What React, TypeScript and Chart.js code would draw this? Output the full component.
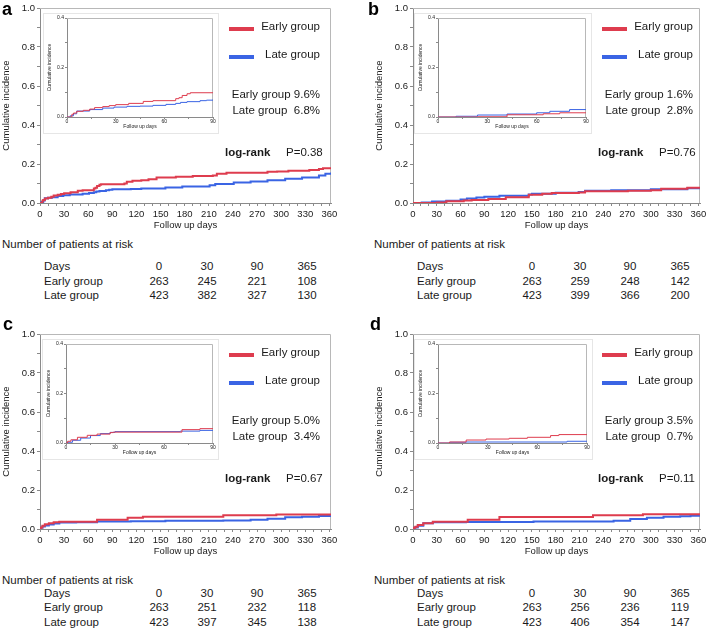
import React, { useEffect, useRef } from "react";
import { Chart, registerables } from "chart.js";

Chart.register(...registerables);

const FONT = "'Liberation Sans', Arial, Helvetica, sans-serif";
const RED = "rgb(222,60,78)";
const BLUE = "rgb(58,100,228)";
const AXIS = "#8a8a8a";
const FRAME = "#b8b8b8";
const TEXT = "#1a1a1a";

// ---------- axis ticks ----------
const X_MAX = 362;
const mainXTicks = [0, 10, 20, 30, 40, 50, 60, 70, 80, 90, 100, 110, 120, 130, 140, 150, 160, 170, 180, 190, 200, 210, 220, 230, 240, 250, 260, 270, 280, 290, 300, 310, 320, 330, 340, 350, 360];
const mainXLabels = [0, 30, 60, 90, 120, 150, 180, 210, 240, 270, 300, 330, 360];
const mainYTicks = [0, 0.1, 0.2, 0.3, 0.4, 0.5, 0.6, 0.7, 0.8, 0.9, 1.0];
const mainYLabels = [0, 0.2, 0.4, 0.6, 0.8, 1.0];
const insetXTicks = [0, 15, 30, 45, 60, 75, 90];
const insetXLabels = [0, 30, 60, 90];
const insetYTicks = [0, 0.1, 0.2, 0.3, 0.4];
const insetYLabels = [0, 0.2, 0.4];

// ---------- panel a ----------
const aEarlyT = [0, 3, 4, 6, 10, 14, 17, 22, 26, 30, 38, 47, 53, 67, 69, 71, 74, 76, 105, 108, 115, 126, 135, 145, 169, 190, 215, 220, 232, 283, 295, 309, 335, 347, 352, 362];
const aEarlyV = [0, 0.011, 0.016, 0.023, 0.027, 0.032, 0.038, 0.042, 0.046, 0.05, 0.055, 0.063, 0.066, 0.074, 0.078, 0.087, 0.094, 0.096, 0.1, 0.109, 0.114, 0.117, 0.122, 0.131, 0.134, 0.138, 0.141, 0.15, 0.155, 0.16, 0.162, 0.166, 0.169, 0.174, 0.178, 0.178];
const aLateT = [0, 2, 4, 6, 10, 15, 22, 29, 37, 45, 53, 61, 67, 70, 74, 82, 86, 90, 113, 126, 156, 177, 211, 218, 241, 262, 283, 305, 326, 347, 355, 362];
const aLateV = [0, 0.005, 0.013, 0.024, 0.027, 0.03, 0.036, 0.04, 0.043, 0.044, 0.047, 0.051, 0.055, 0.059, 0.062, 0.066, 0.068, 0.07, 0.072, 0.075, 0.079, 0.084, 0.091, 0.098, 0.105, 0.11, 0.117, 0.124, 0.131, 0.141, 0.15, 0.156];
const aInEarlyT = [0, 3, 4, 6, 10, 14, 17, 22, 26, 30, 38, 47, 53, 67, 69, 71, 74, 76, 90];
const aInEarlyV = [0, 0.011, 0.016, 0.023, 0.027, 0.032, 0.038, 0.042, 0.046, 0.05, 0.055, 0.063, 0.066, 0.074, 0.078, 0.087, 0.094, 0.098, 0.098];
const aInLateT = [0, 2, 4, 6, 14, 22, 29, 37, 45, 53, 61, 67, 70, 74, 82, 86, 90];
const aInLateV = [0, 0.005, 0.013, 0.024, 0.03, 0.036, 0.04, 0.043, 0.044, 0.047, 0.051, 0.055, 0.059, 0.062, 0.066, 0.068, 0.07];

// ---------- panel b ----------
const bEarlyT = [0, 30, 42, 64, 74, 95, 117, 146, 163, 175, 209, 217, 271, 300, 313, 346, 362];
const bEarlyV = [0, 0.002, 0.009, 0.013, 0.016, 0.02, 0.029, 0.042, 0.047, 0.051, 0.054, 0.06, 0.063, 0.066, 0.073, 0.078, 0.078];
const bLateT = [0, 11, 24, 42, 60, 68, 80, 90, 109, 146, 150, 180, 209, 217, 250, 300, 346, 362];
const bLateV = [0, 0.003, 0.008, 0.012, 0.018, 0.023, 0.028, 0.032, 0.037, 0.044, 0.047, 0.053, 0.056, 0.063, 0.066, 0.071, 0.076, 0.077];
const bInEarlyT = [0, 24, 42, 64, 74, 90];
const bInEarlyV = [0, 0.001, 0.009, 0.013, 0.017, 0.017];
const bInLateT = [0, 11, 24, 42, 60, 68, 80, 90];
const bInLateV = [0, 0.003, 0.008, 0.012, 0.017, 0.023, 0.03, 0.03];

// ---------- panel c ----------
const cEarlyT = [0, 1, 3, 6, 11, 17, 24, 71, 109, 128, 228, 294, 362];
const cEarlyV = [0, 0.008, 0.017, 0.024, 0.03, 0.034, 0.037, 0.048, 0.058, 0.063, 0.07, 0.075, 0.075];
const cLateT = [0, 1, 3, 6, 11, 17, 24, 45, 71, 113, 156, 228, 262, 283, 305, 326, 347, 362];
const cLateV = [0, 0.006, 0.013, 0.018, 0.023, 0.028, 0.033, 0.035, 0.038, 0.04, 0.042, 0.043, 0.047, 0.053, 0.06, 0.063, 0.067, 0.068];
const cInEarlyT = [0, 1, 3, 7, 13, 19, 27, 29, 71, 82, 90];
const cInEarlyV = [0, 0.007, 0.013, 0.023, 0.031, 0.036, 0.042, 0.044, 0.054, 0.058, 0.058];
const cInLateT = [0, 1, 4, 9, 15, 21, 27, 30, 70, 82, 90];
const cInLateV = [0, 0.003, 0.011, 0.02, 0.03, 0.038, 0.043, 0.046, 0.048, 0.051, 0.051];

// ---------- panel d ----------
const dEarlyT = [0, 1, 3, 6, 13, 25, 69, 109, 227, 290, 362];
const dEarlyV = [0, 0.006, 0.012, 0.02, 0.03, 0.037, 0.047, 0.062, 0.071, 0.076, 0.076];
const dLateT = [0, 2, 6, 13, 25, 67, 152, 253, 274, 295, 316, 337, 350, 362];
const dLateV = [0, 0.008, 0.017, 0.029, 0.034, 0.036, 0.039, 0.042, 0.051, 0.058, 0.063, 0.066, 0.068, 0.069];
const dInEarlyT = [0, 7, 17, 29, 43, 54, 68, 73, 90];
const dInEarlyV = [0, 0.004, 0.012, 0.016, 0.019, 0.023, 0.03, 0.034, 0.034];
const dInLateT = [0, 7, 17, 78, 90];
const dInLateV = [0, 0.003, 0.004, 0.007, 0.007];

// ---------- texts and tables ----------
const panelLetters = ["a", "b", "c", "d"];
const earlyPct = ["9.6", "1.6", "5.0", "3.5"];
const latePct = ["6.8", "2.8", "3.4", "0.7"];
const pValues = ["0.38", "0.76", "0.67", "0.11"];
const riskDays = [0, 30, 90, 365];
const riskEarlyA = [263, 245, 221, 108];
const riskLateA = [423, 382, 327, 130];
const riskEarlyB = [263, 259, 248, 142];
const riskLateB = [423, 399, 366, 200];
const riskEarlyC = [263, 251, 232, 118];
const riskLateC = [423, 397, 345, 138];
const riskEarlyD = [263, 256, 236, 119];
const riskLateD = [423, 406, 354, 147];

type Series = { t: number[]; v: number[]; color: string };

const PANELS = [
  { main: [[aEarlyT, aEarlyV], [aLateT, aLateV]], inset: [[aInEarlyT, aInEarlyV], [aInLateT, aInLateV]], risk: [riskEarlyA, riskLateA] },
  { main: [[bEarlyT, bEarlyV], [bLateT, bLateV]], inset: [[bInEarlyT, bInEarlyV], [bInLateT, bInLateV]], risk: [riskEarlyB, riskLateB] },
  { main: [[cEarlyT, cEarlyV], [cLateT, cLateV]], inset: [[cInEarlyT, cInEarlyV], [cInLateT, cInLateV]], risk: [riskEarlyC, riskLateC] },
  { main: [[dEarlyT, dEarlyV], [dLateT, dLateV]], inset: [[dInEarlyT, dInEarlyV], [dInLateT, dInLateV]], risk: [riskEarlyD, riskLateD] },
];

// layout only
const LAYOUT = [
  { dx: 0, dy: 0, mainW: 350, padRight: 19, inL: 44, inT: 14, inW: 146, letterX: 2, letterY: 0, numX: 2, numY: 245, rows: [267, 281.5, 296] },
  { dx: 373, dy: 0, mainW: 335, padRight: 8, inL: 415, inT: 14, inW: 148, letterX: 368, letterY: 0, numX: 374, numY: 245, rows: [267, 281.5, 296] },
  { dx: 0, dy: 326, mainW: 350, padRight: 19, inL: 43, inT: 340, inW: 147, letterX: 3, letterY: 315, numX: 2, numY: 581, rows: [593.5, 608, 622.5] },
  { dx: 373, dy: 326, mainW: 335, padRight: 8, inL: 415, inT: 340, inW: 149, letterX: 370, letterY: 315, numX: 374, numY: 581, rows: [593.5, 608, 622.5] },
];
const COLS = [159, 207, 257, 307];

type ChartProps = {
  left: number; top: number; width: number; height: number;
  padTop: number; padRight: number; yW: number; xH: number;
  inset: boolean; series: Series[];
};

function StepChart(p: ChartProps) {
  const ref = useRef<HTMLCanvasElement | null>(null);
  useEffect(() => {
    const inset = p.inset;
    const font = { family: FONT, size: inset ? 5 : 9.5, lineHeight: 1.2 };
    const xTicks = inset ? insetXTicks : mainXTicks;
    const xLabels = inset ? insetXLabels : mainXLabels;
    const yTicks = inset ? insetYTicks : mainYTicks;
    const yLabels = inset ? insetYLabels : mainYLabels;
    const frame = {
      id: "frame",
      beforeDatasetsDraw(chart: any) {
        const { left, top, right, bottom } = chart.chartArea;
        const ctx = chart.ctx;
        ctx.save();
        ctx.strokeStyle = FRAME;
        ctx.lineWidth = 1;
        ctx.beginPath();
        ctx.moveTo(left, Math.round(top) + 0.5);
        ctx.lineTo(Math.round(right) - 0.5, Math.round(top) + 0.5);
        ctx.lineTo(Math.round(right) - 0.5, bottom);
        ctx.stroke();
        ctx.restore();
      },
    };
    const chart = new Chart(ref.current as HTMLCanvasElement, {
      type: "line",
      data: {
        datasets: p.series.map((s) => ({
          data: s.t.map((t, i) => ({ x: t, y: s.v[i] })),
          borderColor: s.color,
          backgroundColor: s.color,
          borderWidth: inset ? 1 : 2,
          pointRadius: 0,
          stepped: "before",
          fill: false,
        })),
      },
      options: {
        animation: false,
        responsive: false,
        events: [],
        layout: { padding: { left: 0, top: p.padTop, right: p.padRight, bottom: 0 } },
        plugins: { legend: { display: false }, tooltip: { enabled: false } },
        scales: {
          x: {
            type: "linear",
            min: 0,
            max: inset ? 90 : X_MAX,
            afterBuildTicks: (s: any) => { s.ticks = xTicks.map((v) => ({ value: v })); },
            afterFit: (s: any) => { s.height = p.xH; s.paddingLeft = 0; s.paddingRight = 0; },
            ticks: {
              autoSkip: false, maxRotation: 0, minRotation: 0,
              padding: inset ? 0 : 3, font, color: TEXT,
              callback: (v: any) => (xLabels.includes(v) ? String(v) : ""),
            },
            grid: { drawOnChartArea: false, drawTicks: true, tickLength: inset ? 2 : 3, tickColor: AXIS, color: AXIS },
            border: { display: true, color: AXIS, width: 1 },
            title: { display: true, text: "Follow up days", font, color: TEXT, padding: { top: 0, bottom: inset ? 3 : 0 } },
          },
          y: {
            type: "linear",
            min: 0,
            max: inset ? 0.4 : 1.0,
            afterBuildTicks: (s: any) => { s.ticks = yTicks.map((v) => ({ value: v })); },
            afterFit: (s: any) => { s.width = p.yW; s.paddingTop = 0; s.paddingBottom = 0; },
            ticks: {
              autoSkip: false, padding: inset ? 1 : 2, font, color: TEXT,
              callback: (v: any) => (yLabels.includes(v) ? Number(v).toFixed(1) : ""),
            },
            grid: { drawOnChartArea: false, drawTicks: true, tickLength: inset ? 2 : 3, tickColor: AXIS, color: AXIS },
            border: { display: true, color: AXIS, width: 1 },
            title: { display: true, text: "Cumulative incidence", font, color: TEXT, padding: { top: inset ? 3 : 1, bottom: 0 } },
          },
        },
      },
      plugins: [frame],
    } as any);
    return () => chart.destroy();
  }, []);
  return (
    <canvas
      ref={ref}
      width={p.width}
      height={p.height}
      style={{
        position: "absolute", left: p.left, top: p.top, width: p.width, height: p.height,
        background: p.inset ? "#fff" : "transparent",
        boxShadow: p.inset ? "0 0 0 1px #e6e6e6" : "none",
      }}
    />
  );
}

type TxtProps = { x: number; cy: number; size?: number; bold?: boolean; align?: "left" | "right" | "center"; children: React.ReactNode };
function Txt({ x, cy, size = 11.5, bold = false, align = "left", children }: TxtProps) {
  const style: React.CSSProperties = {
    position: "absolute", top: cy - size / 2, height: size, lineHeight: `${size}px`,
    fontSize: size, fontFamily: FONT, fontWeight: bold ? 700 : 400, whiteSpace: "pre", color: TEXT,
  };
  if (align === "left") style.left = x;
  else if (align === "right") { style.right = 708 - x; style.textAlign = "right"; }
  else { style.left = x - 50; style.width = 100; style.textAlign = "center"; }
  return <div style={style}>{children}</div>;
}

function Panel({ idx }: { idx: number }) {
  const L = LAYOUT[idx];
  const P = PANELS[idx];
  const dx = L.dx, dy = L.dy;
  const colors = [RED, BLUE];
  const mainSeries: Series[] = P.main.map((s, i) => ({ t: s[0], v: s[1], color: colors[i] }));
  const insetSeries: Series[] = P.inset.map((s, i) => ({ t: s[0], v: s[1], color: colors[i] }));
  const rowLabels = ["Days", "Early group", "Late group"];
  const rowValues = [riskDays, P.risk[0], P.risk[1]];
  return (
    <>
      <StepChart left={dx} top={dy} width={L.mainW} height={231} padTop={8} padRight={L.padRight} yW={40} xH={28} inset={false} series={mainSeries} />
      <StepChart left={L.inL} top={L.inT} width={23 + L.inW + 5} height={119} padTop={4} padRight={5} yW={23} xH={16} inset={true} series={insetSeries} />
      <div style={{ position: "absolute", left: L.letterX, top: L.letterY, fontFamily: FONT, fontWeight: 700, fontSize: 18, lineHeight: "18px", color: "#000" }}>{panelLetters[idx]}</div>
      <div style={{ position: "absolute", left: 229 + dx, top: 27 + dy, width: 25, height: 4, background: RED }} />
      <div style={{ position: "absolute", left: 229 + dx, top: 55 + dy, width: 25, height: 4, background: BLUE }} />
      <Txt x={320 + dx} cy={27 + dy} align="right">Early group</Txt>
      <Txt x={320 + dx} cy={55 + dy} align="right">Late group</Txt>
      <Txt x={320 + dx} cy={95 + dy} align="right">{`Early group ${earlyPct[idx]}%`}</Txt>
      <Txt x={320 + dx} cy={111 + dy} align="right">{`Late group  ${latePct[idx]}%`}</Txt>
      <Txt x={225 + dx} cy={153 + dy} bold>log-rank</Txt>
      <Txt x={286 + dx} cy={153 + dy}>{`P=${pValues[idx]}`}</Txt>
      <Txt x={L.numX} cy={L.numY}>Number of patients at risk</Txt>
      {rowLabels.map((lab, r) => (
        <React.Fragment key={lab}>
          <Txt x={44 + dx} cy={L.rows[r]}>{lab}</Txt>
          {rowValues[r].map((v, c) => (
            <Txt key={c} x={COLS[c] + dx} cy={L.rows[r]} align="center">{String(v)}</Txt>
          ))}
        </React.Fragment>
      ))}
    </>
  );
}

export default function App() {
  return (
    <div style={{ position: "absolute", left: 0, top: 0, width: 708, height: 630, overflow: "hidden", background: "#fff" }}>
      {[0, 1, 2, 3].map((i) => <Panel key={i} idx={i} />)}
    </div>
  );
}
